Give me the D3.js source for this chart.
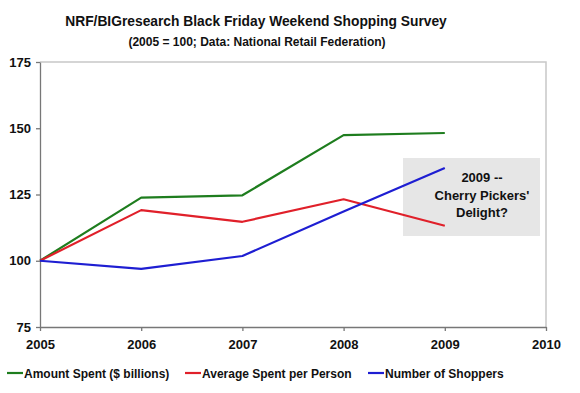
<!DOCTYPE html>
<html>
<head>
<meta charset="utf-8">
<script src="https://cdn.jsdelivr.net/npm/d3@7"></script>
<style>
  body { margin: 0; background: #fff; }
  text { font-family: Arial, "Liberation Sans", sans-serif; font-weight: bold; fill: #111; }
</style>
</head>
<body>
<div id="chart"></div>
<script>
// data (2005 = 100)
const years = [2005, 2006, 2007, 2008, 2009];
const amountSpent = [100, 123.8, 124.7, 147.4, 148.2];
const avgPerPerson = [100, 119.1, 114.7, 123.2, 113.2];
const numShoppers = [100, 96.9, 101.8, 118.6, 135.0];
const xTicks = [2005, 2006, 2007, 2008, 2009, 2010];
const yTicks = [75, 100, 125, 150, 175];
const seriesNames = ["Amount Spent ($ billions)", "Average Spent per Person", "Number of Shoppers"];
const seriesColors = ["#1e7d1e", "#e0202a", "#1e1ed2"];
const noteLines = ["2009 --", "Cherry Pickers'", "Delight?"];

const width = 580, height = 393;
const margin = {top: 62, right: 34, bottom: 66, left: 40};

const svg = d3.select("#chart").append("svg")
    .attr("width", width)
    .attr("height", height);

const x = d3.scaleLinear().domain([2005, 2010]).range([margin.left, width - margin.right]);
const y = d3.scaleLinear().domain([75, 175]).range([height - margin.bottom, margin.top]);

// title
svg.append("text")
    .attr("x", 256).attr("y", 26)
    .attr("text-anchor", "middle")
    .style("font-size", "13.8px")
    .text("NRF/BIGresearch Black Friday Weekend Shopping Survey");
svg.append("text")
    .attr("x", 257).attr("y", 46)
    .attr("text-anchor", "middle")
    .style("font-size", "12px")
    .text("(2005 = 100; Data: National Retail Federation)");

// plot frame (top and right in light grey)
svg.append("path")
    .attr("d", `M${x(2005)},${y(175)}H${x(2010)}V${y(75)}`)
    .attr("fill", "none")
    .attr("stroke", "#c8c8c8")
    .attr("stroke-width", 1.5);

// annotation box
const box = svg.append("g");
box.append("rect")
    .attr("x", 403).attr("y", 158)
    .attr("width", 137).attr("height", 78)
    .attr("fill", "#e6e6e6");
box.selectAll("text").data(noteLines).enter().append("text")
    .attr("x", 482)
    .attr("y", (d, i) => 182 + i * 17.5)
    .attr("text-anchor", "middle")
    .style("font-size", "13px")
    .text(d => d);

// axes
const xAxis = d3.axisBottom(x).tickValues(xTicks).tickFormat(d3.format("d")).tickSize(4).tickSizeOuter(0).tickPadding(9);
const yAxis = d3.axisLeft(y).tickValues(yTicks).tickSize(4).tickSizeOuter(0).tickPadding(5);

const gx = svg.append("g")
    .attr("class", "x-axis")
    .attr("transform", `translate(0,${y(75)})`)
    .call(xAxis);
const gy = svg.append("g")
    .attr("class", "y-axis")
    .attr("transform", `translate(${x(2005)},0)`)
    .call(yAxis);

[gx, gy].forEach(g => {
    g.select(".domain").attr("stroke", "#777").attr("stroke-width", 1.3);
    g.selectAll(".tick line").attr("stroke", "#777").attr("stroke-width", 1.3);
    g.selectAll(".tick text")
        .style("font-size", "13px")
        .style("font-family", "Arial, 'Liberation Sans', sans-serif")
        .style("font-weight", "bold")
        .attr("fill", "#111");
});

// lines
const allSeries = [amountSpent, avgPerPerson, numShoppers];
const line = d3.line()
    .x((d, i) => x(years[i]))
    .y(d => y(d));

svg.selectAll(".series").data(allSeries).enter().append("path")
    .attr("class", "series")
    .attr("d", d => line(d))
    .attr("fill", "none")
    .attr("stroke", (d, i) => seriesColors[i])
    .attr("stroke-width", 2.2)
    .attr("stroke-linejoin", "round");

// legend
const legendX = [7, 185, 368];
const legend = svg.selectAll(".legend").data(seriesNames).enter().append("g")
    .attr("class", "legend")
    .attr("transform", (d, i) => `translate(${legendX[i]},373)`);
legend.append("line")
    .attr("x1", 0).attr("x2", 16)
    .attr("y1", 0).attr("y2", 0)
    .attr("stroke", (d, i) => seriesColors[i])
    .attr("stroke-width", 2.2);
legend.append("text")
    .attr("x", 17).attr("y", 4.5)
    .style("font-size", "12px")
    .text(d => d);
</script>
</body>
</html>
